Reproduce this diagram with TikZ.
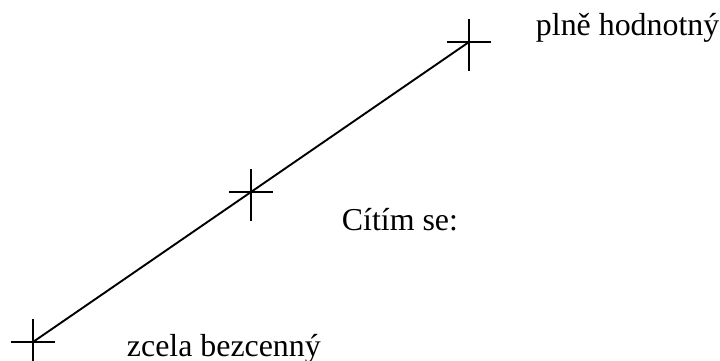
\documentclass[tikz,border=0pt]{standalone}
\usepackage{fontspec}
\setmainfont{Liberation Serif}
\usetikzlibrary{positioning}

\begin{document}
\begin{tikzpicture}[
    x=1bp, y=-1bp,
    line width=1.9bp,
    label/.style={anchor=base west, inner sep=0pt, font=\fontsize{32}{38}\selectfont},
    mark/.pic={\draw (-22,0) -- (22,0); \draw (0,-23) -- (0,29);}
]
\useasboundingbox (0,0) rectangle (720,360);

\coordinate (low) at (33,342);
\coordinate (mid) at (251,192);
\coordinate (high) at (469,42);

\draw (low) -- (mid) -- (high);
\pic at (low) {mark};
\pic at (mid) {mark};
\pic at (high) {mark};

\node[label] (top) at (535,35) {plně hodnotný};
\node[label] (ask) at (341,230) {Cítím se:};
\node[label] (bottom) at (126,356) {zcela bezcenný};

\end{tikzpicture}
\end{document}
